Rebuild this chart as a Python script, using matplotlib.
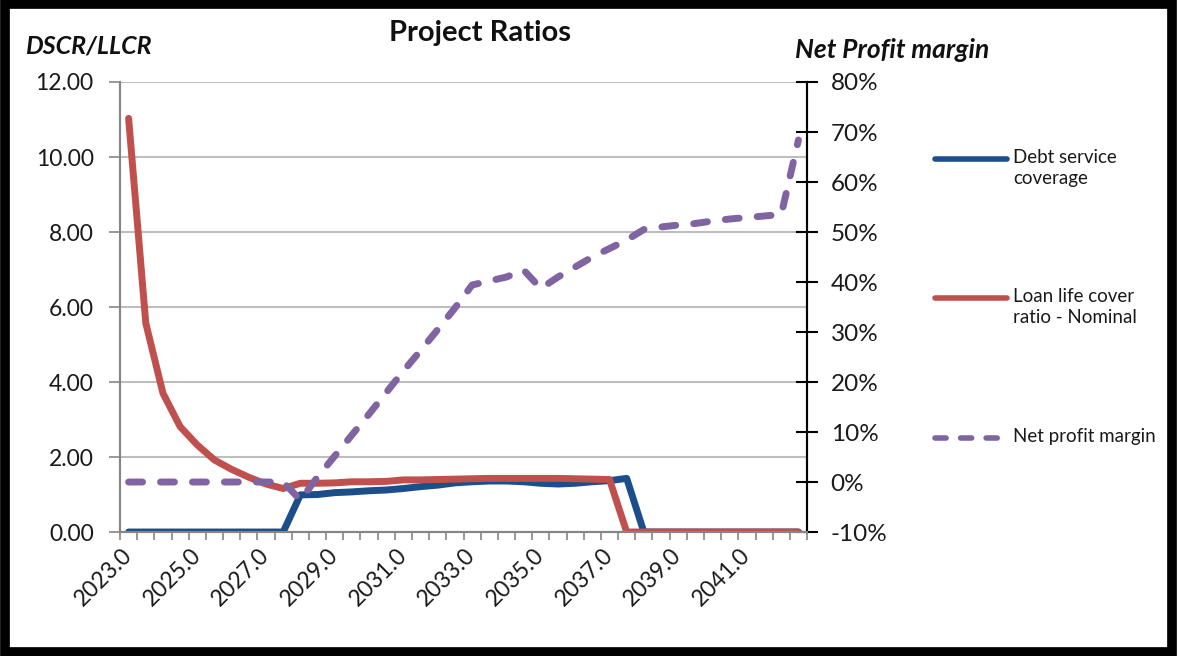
"""Project ratios chart: DSCR / LLCR on the left axis, net profit margin on the right."""
import matplotlib
matplotlib.use("Agg")
import matplotlib.pyplot as plt
from matplotlib.lines import Line2D
from matplotlib.patches import Rectangle
from matplotlib.ticker import FixedLocator, FuncFormatter

plt.rcParams["font.family"] = ["Lato", "DejaVu Sans"]

# half-year periods
periods = [
    2023.0, 2023.5, 2024.0, 2024.5, 2025.0, 2025.5, 2026.0, 2026.5, 2027.0, 2027.5,
    2028.0, 2028.5, 2029.0, 2029.5, 2030.0, 2030.5, 2031.0, 2031.5, 2032.0, 2032.5,
    2033.0, 2033.5, 2034.0, 2034.5, 2035.0, 2035.5, 2036.0, 2036.5, 2037.0, 2037.5,
    2038.0, 2038.5, 2039.0, 2039.5, 2040.0, 2040.5, 2041.0, 2041.5, 2042.0, 2042.5,
]

dscr = [
    0, 0, 0, 0, 0, 0, 0, 0, 0, 0,
    0.99, 1.00, 1.05, 1.07, 1.10, 1.12, 1.16, 1.21, 1.25, 1.31,
    1.34, 1.36, 1.36, 1.34, 1.30, 1.28, 1.30, 1.34, 1.37, 1.43,
    0, 0, 0, 0, 0, 0, 0, 0, 0, 0,
]

llcr = [
    11.03, 5.57, 3.70, 2.81, 2.32, 1.92, 1.67, 1.46, 1.28, 1.16,
    1.30, 1.30, 1.31, 1.34, 1.34, 1.35, 1.39, 1.39, 1.40, 1.41,
    1.42, 1.43, 1.43, 1.43, 1.43, 1.43, 1.42, 1.41, 1.40, 0,
    0, 0, 0, 0, 0, 0, 0, 0, 0, 0,
]

# net profit margin, %
npm = [
    0, 0, 0, 0, 0, 0, 0, 0, 0, 0,
    -3.6, 1.0, 5.2, 9.4, 13.6, 17.9, 22.2, 26.3, 30.5, 34.8,
    39.4, 40.2, 41.0, 42.4, 38.7, 41.0, 43.0, 45.0, 46.7, 48.4,
    50.5, 51.0, 51.4, 51.7, 52.2, 52.6, 52.9, 53.2, 53.5, 68.4,
]

left_ticks = [0, 2, 4, 6, 8, 10, 12]
right_ticks = [-10, 0, 10, 20, 30, 40, 50, 60, 70, 80]

BLUE = "#1C4E8A"
RED = "#C0504D"
PURPLE = "#8064A2"
GRID = "#BEBEBE"
AXIS_GREY = "#868686"

fig = plt.figure(figsize=(11.79, 6.56), dpi=100)
fig.patch.set_facecolor("white")
ax = fig.add_axes([0.1018, 0.189, 0.5827, 0.686])
ax2 = ax.twinx()

x = list(range(len(periods)))

ax.plot(x, dscr, color=BLUE, lw=5, solid_joinstyle="round", solid_capstyle="round", zorder=3)
ax.plot(x, llcr, color=RED, lw=5, solid_joinstyle="round", solid_capstyle="round", zorder=4)
ax2.plot(x, npm, color=PURPLE, lw=5, dashes=(2.0, 2.6), dash_capstyle="round", zorder=5)

ax.set_xlim(-0.5, len(periods) - 0.5)
ax.set_ylim(0, 12)
ax2.set_ylim(-10, 80)

# left axis
ax.set_yticks(left_ticks)
ax.set_yticklabels([f"{v:.2f}" for v in left_ticks], fontsize=16.5, color="#1a1a1a")
ax.tick_params(axis="y", direction="out", length=8, width=1.2, color=AXIS_GREY, pad=11)
ax.grid(axis="y", color=GRID, lw=1.5, zorder=0)
ax.set_axisbelow(True)

# right axis
ax2.set_yticks(right_ticks)
ax2.yaxis.set_major_formatter(FuncFormatter(lambda v, _: f"{v:.0f}%"))
ax2.tick_params(axis="y", direction="inout", length=16, width=1.5, color="black",
                labelsize=17.5, labelcolor="#1a1a1a", pad=9)

# category axis: tick marks between categories, labels every other year
ax.xaxis.set_major_locator(FixedLocator(x[::4]))
ax.set_xticklabels([f"{periods[i]:.1f}" for i in x[::4]], rotation=45,
                   ha="right", va="center", rotation_mode="anchor",
                   fontsize=16.5, color="#1a1a1a")
ax.tick_params(axis="x", which="major", length=0, pad=14)
ax.xaxis.set_minor_locator(FixedLocator([i - 0.5 for i in range(len(periods) + 1)]))
ax.tick_params(axis="x", which="minor", direction="out", length=6, width=1.2, color=AXIS_GREY)

for a in (ax, ax2):
    a.spines["top"].set_visible(False)
    a.spines["left"].set_color(AXIS_GREY)
    a.spines["left"].set_linewidth(1.5)
    a.spines["bottom"].set_color(AXIS_GREY)
    a.spines["bottom"].set_linewidth(1.5)
    a.spines["right"].set_color("black")
    a.spines["right"].set_linewidth(1.5)
ax.set_zorder(ax2.get_zorder() - 1)
ax.patch.set_visible(False)
ax2.set_zorder(2)

# titles
fig.text(480 / 1179, 1 - 33 / 656, "Project Ratios", ha="center", va="center",
         fontsize=21, fontweight="bold", color="#111111")
fig.text(25 / 1179, 1 - 46 / 656, "DSCR/LLCR", ha="left", va="center",
         fontsize=18, fontweight="bold", fontstyle="italic", color="#111111")
fig.text(795 / 1179, 1 - 50 / 656, "Net Profit margin", ha="left", va="center",
         fontsize=19, fontweight="bold", fontstyle="italic", color="#111111")

# legend, laid out by hand so the sample line sits on the first text line
legend_rows = [
    (BLUE, "-", "Debt service\ncoverage", 159),
    (RED, "-", "Loan life cover\nratio - Nominal", 298),
    (PURPLE, "--", "Net profit margin", 438),
]
for color, style, label, ypx in legend_rows:
    yf = 1 - ypx / 656
    kw = dict(dashes=(2.0, 2.6), dash_capstyle="round") if style == "--" else dict(solid_capstyle="round")
    fig.add_artist(Line2D([935 / 1179, 1007 / 1179], [yf, yf], color=color, lw=4, **kw))
    fig.text(1013 / 1179, yf + 10 / 656, label, ha="left", va="top",
             fontsize=13.5, color="#1a1a1a", linespacing=1.3)

# outer frame
fig.add_artist(Rectangle((0.004, 0.006), 0.99, 0.988, transform=fig.transFigure,
                         fill=False, edgecolor="black", lw=7))

fig.savefig("out.png", dpi=100, facecolor="white")
